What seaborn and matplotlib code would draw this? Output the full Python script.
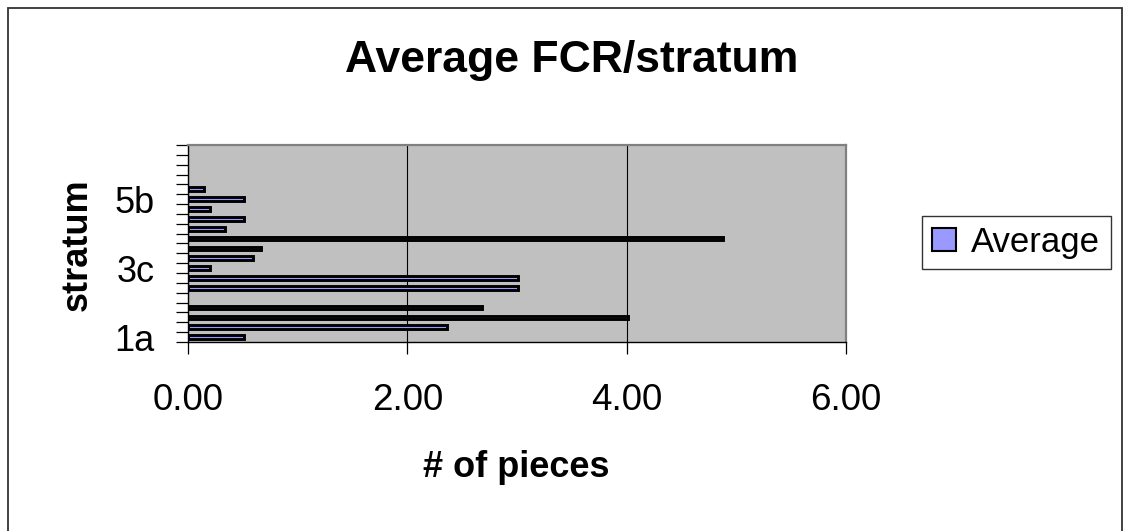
import numpy as np
import pandas as pd
import matplotlib
matplotlib.use("Agg")
import matplotlib.pyplot as plt
from matplotlib.ticker import FixedLocator
from matplotlib.patches import Rectangle, Patch
import seaborn as sns

# Strata (bottom to top) and their average FCR piece counts
strata = ["1a", "1b", "1c", "2a", "2b", "3a", "3b", "3c", "3d", "4a",
          "4b", "4c", "4d", "5a", "5b", "5c", "6a", "6b", "6c", "7a"]
averages = [0.51, 2.36, 4.01, 2.68, np.nan, 3.01, 3.01, 0.20, 0.59, 0.67,
            4.88, 0.34, 0.51, 0.20, 0.51, 0.15, np.nan, np.nan, np.nan, np.nan]
shown_labels = ["1a", "3c", "5b"]
x_ticks = [0.0, 2.0, 4.0, 6.0]
series_name = "Average"

df = pd.DataFrame({"stratum": strata, series_name: averages})

sns.set_style("white")
plt.rcParams["font.family"] = ["Liberation Sans", "DejaVu Sans"]
plt.rcParams.update({"text.color": "black", "axes.labelcolor": "black",
                     "xtick.color": "black", "ytick.color": "black"})

fig = plt.figure(figsize=(11.25, 5.31), dpi=100)
ax = fig.add_axes([188 / 1125, 1 - 342 / 531, (846 - 188) / 1125, (342 - 145) / 531])
ax.set_facecolor("#C0C0C0")

bar_color = "#9999FF"
sns.barplot(data=df, x=series_name, y="stratum", order=strata, orient="h",
            color=bar_color, saturation=1, edgecolor="black", linewidth=2.1,
            width=0.38, ax=ax, errorbar=None)

# category axis: 1a at the bottom
ax.set_ylim(-0.5, len(strata) - 0.5)
ax.set_yticks([strata.index(s) for s in shown_labels], labels=shown_labels)
ax.yaxis.set_minor_locator(FixedLocator(np.arange(-0.5, len(strata), 1.0)))
ax.tick_params(axis="y", which="major", length=0, pad=24, labelsize=26)
ax.tick_params(axis="y", which="minor", length=8.6, width=0.9, color="black",
               direction="out", left=True)

# value axis
ax.set_xlim(0, 6)
ax.set_xticks(x_ticks, labels=[f"{v:.2f}" for v in x_ticks])
ax.tick_params(axis="x", which="major", length=8.6, width=0.9, color="black",
               direction="out", bottom=True, pad=21, labelsize=26.5)
ax.grid(axis="x", color="black", linewidth=0.8)
ax.grid(axis="y", visible=False)
ax.set_axisbelow(True)

for side in ("top", "right"):
    ax.spines[side].set_color("#808080")
    ax.spines[side].set_linewidth(1.6)
for side in ("left", "bottom"):
    ax.spines[side].set_color("black")
    ax.spines[side].set_linewidth(1.0)

ax.set_xlabel("")
ax.set_ylabel("")

fig.text(571.5 / 1125, 1 - 72 / 531, "Average FCR/stratum", ha="center",
         va="baseline", fontsize=32, fontweight="bold")
fig.text(516 / 1125, 1 - 477 / 531, "# of pieces", ha="center",
         va="baseline", fontsize=26, fontweight="bold")
fig.text(77 / 1125, 1 - 244.5 / 531, "stratum", ha="center", va="center",
         rotation=90, fontsize=26, fontweight="bold")

handle = Patch(facecolor=bar_color, edgecolor="black", linewidth=1.5)
leg = fig.legend(handles=[handle], labels=[series_name], loc="center left",
                 bbox_to_anchor=(922 / 1125, 1 - 242.5 / 531), fontsize=25,
                 frameon=True, fancybox=False, shadow=False, borderpad=0.3,
                 handlelength=0.67, handleheight=0.64, handletextpad=0.45,
                 borderaxespad=0)
leg.get_frame().set_edgecolor("black")
leg.get_frame().set_linewidth(1.0)

# chart-area border
fig.add_artist(Rectangle((8 / 1125, -0.02), (1122 - 8) / 1125, 1 - 8 / 531 + 0.02,
                         transform=fig.transFigure, fill=False,
                         edgecolor="#333333", linewidth=1.3))

fig.savefig("out.png", dpi=100, facecolor="white")
